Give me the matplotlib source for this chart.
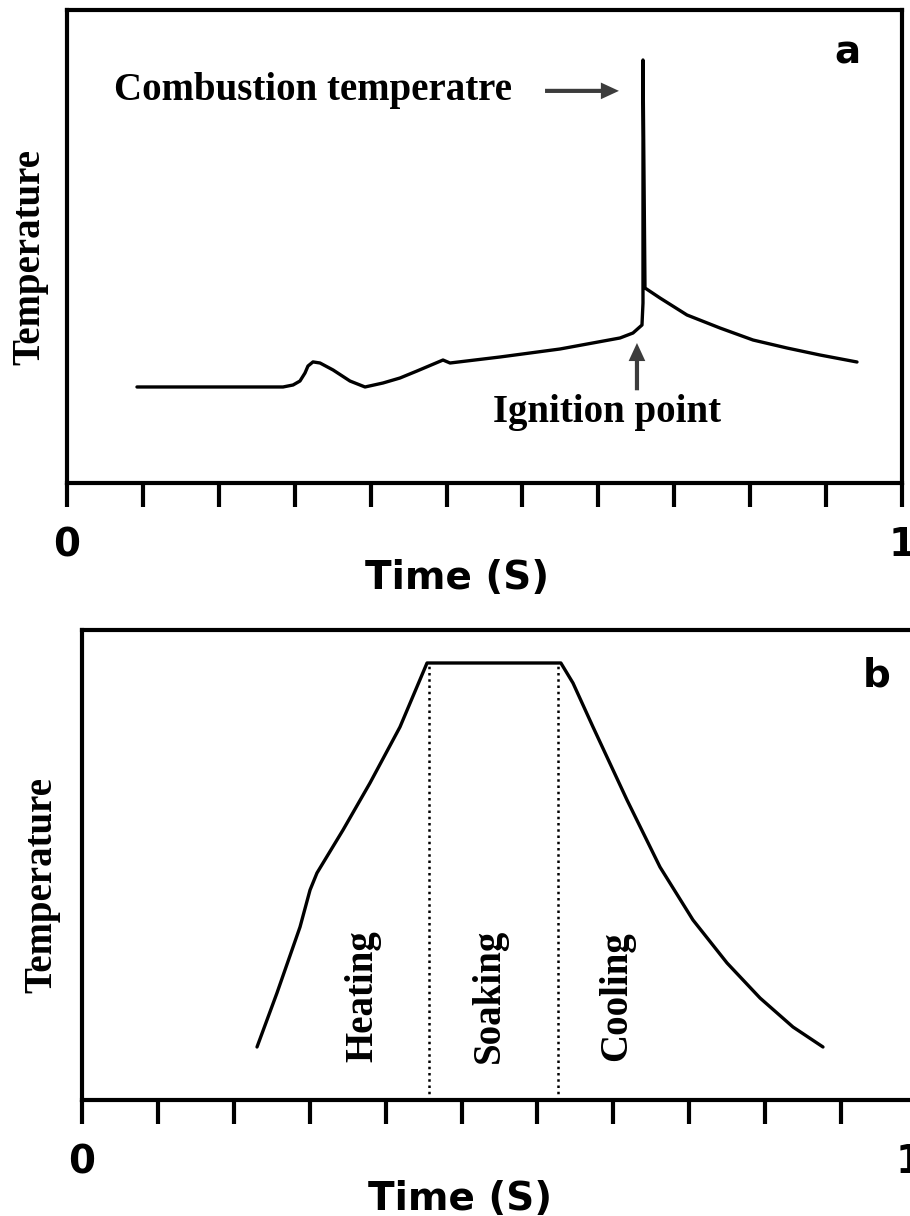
import numpy as np
import matplotlib
matplotlib.use("Agg")
import matplotlib.pyplot as plt
from matplotlib.transforms import ScaledTranslation

# ---------------- data (normalised time / temperature) ----------------
time_a = [0.0838, 0.1593, 0.2587, 0.2707, 0.2790, 0.2850, 0.2886, 0.2946, 0.3030,
          0.3186, 0.3389, 0.3569, 0.3784, 0.3988, 0.4192, 0.4503, 0.4587, 0.5186,
          0.5904, 0.6623, 0.6778, 0.6886, 0.6898, 0.6898, 0.6922, 0.7102, 0.7425,
          0.7820, 0.8216, 0.8623, 0.9018, 0.9461]
temp_a = [0.203, 0.203, 0.203, 0.2072, 0.2156, 0.2325, 0.2473, 0.256, 0.2537,
          0.239, 0.2156, 0.203, 0.2114, 0.2220, 0.2368, 0.260, 0.2537, 0.2664,
          0.2833, 0.3066, 0.3171, 0.3340, 0.3805, 0.8943, 0.4123, 0.3911, 0.3552,
          0.3277, 0.3023, 0.2854, 0.2706, 0.2558]

time_b = [0.2096, 0.2335, 0.2611, 0.2731, 0.2814, 0.3126, 0.3449, 0.3808, 0.4132,
          0.5735, 0.5880, 0.6120, 0.6527, 0.6922, 0.7317, 0.7725, 0.8120, 0.8515,
          0.8874]
temp_b = [0.1128, 0.2277, 0.3681, 0.4468, 0.4830, 0.5745, 0.6745, 0.7936, 0.9298,
          0.9298, 0.8872, 0.7936, 0.6383, 0.4957, 0.3830, 0.2915, 0.2170, 0.1553,
          0.1128]

soak_bounds = [0.4156, 0.5701]
stage_labels = ["Heating", "Soaking", "Cooling"]
stage_x = [0.336, 0.488, 0.640]

tick_positions = list(np.linspace(0, 1, 12))
tick_labels = ["0"] + [""] * 10 + ["1"]

ignition_label = "Ignition point"
combustion_label = "Combustion temperatre"

# ---------------- styling ----------------
W, H = 910, 1216
fig = plt.figure(figsize=(W / 100, H / 100), dpi=100)
fig.patch.set_facecolor("white")

serif = dict(family="Liberation Serif", weight="bold", size=28)
heavy = dict(family="DejaVu Sans", weight="bold", size=28)


def px_axes(left, top, right, bottom):
    return [left / W, 1 - bottom / H, (right - left) / W, (bottom - top) / H]


def style_axes(ax):
    for s in ax.spines.values():
        s.set_linewidth(3)
        s.set_color("black")
    ax.set_xlim(0, 1)
    ax.set_ylim(0, 1)
    ax.set_yticks([])
    ax.set_xticks(tick_positions)
    ax.set_xticklabels(tick_labels, fontdict=heavy)
    ax.tick_params(axis="x", direction="out", length=17, width=3, pad=14,
                   color="black")


# ---------------- panel a ----------------
ax1 = fig.add_axes(px_axes(67, 10, 902, 483))
style_axes(ax1)
ax1.plot(time_a, temp_a, color="black", lw=2.4, solid_joinstyle="round",
         solid_capstyle="round")
ax1.set_xlabel("Time (S)", fontdict=heavy, va="top")
ax1.xaxis.set_label_coords(0.467, -0.160)
ax1.set_ylabel("Temperature", fontdict=serif, va="center")
ax1.yaxis.set_label_coords(-0.044, 0.478)
ax1.text(0.935, 0.911, "a", fontdict=heavy, ha="center", va="center",
         transform=ax1.transAxes)
arrow_kw = dict(facecolor="#3c3c3c", edgecolor="none", width=3,
                headwidth=12, headlength=13, shrink=0)
ax1.text(0.0563, 0.829, combustion_label, fontdict=serif, ha="left",
         va="center", transform=ax1.transAxes)
ax1.annotate("", xy=(0.661, 0.829), xytext=(0.5725, 0.829),
             arrowprops=arrow_kw)
ax1.text(0.6467, 0.148, ignition_label, fontdict=serif, ha="center",
         va="center", transform=ax1.transAxes)
ax1.annotate("", xy=(0.6826, 0.296), xytext=(0.6826, 0.196),
             arrowprops=arrow_kw)

# ---------------- panel b ----------------
ax2 = fig.add_axes(px_axes(82, 630, 917, 1100))
style_axes(ax2)
ax2.plot(time_b, temp_b, color="black", lw=2.4, solid_joinstyle="round",
         solid_capstyle="round")
for xb in soak_bounds:
    ax2.plot([xb, xb], [0, temp_b[8]], color="black", lw=1.8,
             linestyle=(0, (1, 1.5)))
for lab, xs in zip(stage_labels, stage_x):
    ax2.text(xs, 0.221, lab, fontdict=serif, rotation=90, ha="center",
             va="center", transform=ax2.transAxes)
ax2.set_xlabel("Time (S)", fontdict=heavy, va="top")
ax2.xaxis.set_label_coords(0.453, -0.170)
ax2.set_ylabel("Temperature", fontdict=serif, va="center")
ax2.yaxis.set_label_coords(-0.048, 0.457)
ax2.text(0.952, 0.904, "b", fontdict=heavy, ha="center", va="center",
         transform=ax2.transAxes)

# the last tick label of panel b sits partly beyond the right edge, as in the
# reference; nudge it slightly so its visible part matches
last = ax2.xaxis.get_major_ticks()[-1].label1
last.set_transform(last.get_transform()
                   + ScaledTranslation(-8 / 100, 0, fig.dpi_scale_trans))

fig.savefig("out.png", dpi=100, facecolor="white")
